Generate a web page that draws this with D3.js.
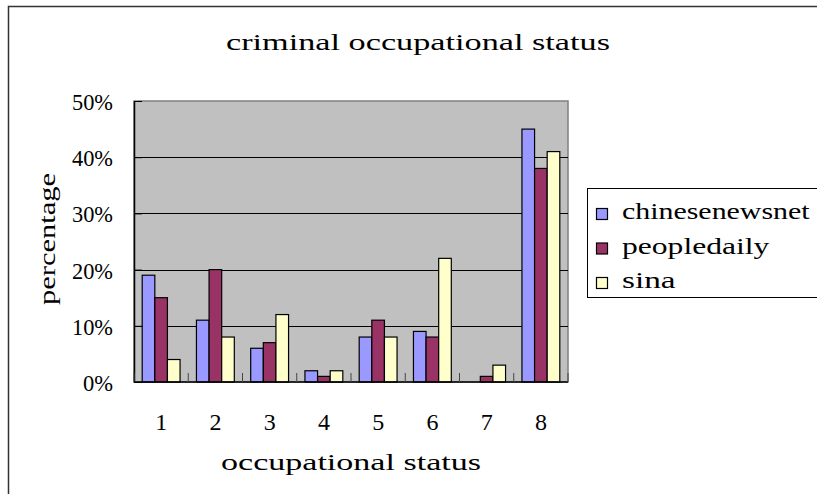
<!DOCTYPE html>
<html>
<head>
<meta charset="utf-8">
<script src="https://cdn.jsdelivr.net/npm/d3@7"></script>
<style>
  body { margin: 0; background: #fff; }
  svg { display: block; }
  text { fill: #000; }
</style>
</head>
<body>
<svg id="chart" width="817" height="494"></svg>
<script>
const categories = ['1', '2', '3', '4', '5', '6', '7', '8']
const seriesNames = ['chinesenewsnet', 'peopledaily', 'sina']
const chinesenewsnet = [19, 11, 6, 2, 8, 9, 0, 45]
const peopledaily = [15, 20, 7, 1, 11, 8, 1, 38]
const sina = [4, 8, 12, 2, 8, 22, 3, 41]
const yTicks = [0, 10, 20, 30, 40, 50]
const colors = ['#9999ff', '#993366', '#ffffcc']

const values = [chinesenewsnet, peopledaily, sina]
const plot = { left: 134, top: 101, right: 568, bottom: 382 }
const FONT = "'Liberation Serif', 'DejaVu Serif', 'Times New Roman', serif"

const svg = d3.select('#chart').attr('font-family', FONT)

// outer chart frame (runs off the right and bottom edge like the source)
svg.append('rect')
  .attr('x', 8.5).attr('y', 6.5).attr('width', 830).attr('height', 500)
  .attr('fill', 'none').attr('stroke', '#333').attr('stroke-width', 1.5)

const x0 = d3.scaleBand().domain(categories).range([plot.left, plot.right])
const x1 = d3.scaleBand().domain(seriesNames).range([0, x0.bandwidth()]).paddingOuter(0.65)
const y = d3.scaleLinear().domain([0, 50]).range([plot.bottom, plot.top])

// plot area
svg.append('rect')
  .attr('x', plot.left).attr('y', plot.top)
  .attr('width', plot.right - plot.left).attr('height', plot.bottom - plot.top)
  .attr('fill', '#c0c0c0').attr('stroke', '#808080').attr('stroke-width', 1.5)

// gridlines
svg.append('g').selectAll('line')
  .data(yTicks.filter(d => d > 0 && d < 50))
  .join('line')
  .attr('x1', plot.left).attr('x2', plot.right)
  .attr('y1', d => Math.round(y(d)) + 0.5).attr('y2', d => Math.round(y(d)) + 0.5)
  .attr('stroke', '#000')

// bars
svg.append('g').selectAll('g')
  .data(categories)
  .join('g')
  .attr('transform', d => `translate(${x0(d)},0)`)
  .selectAll('rect')
  .data((d, i) => seriesNames.map((s, j) => ({ s, j, v: values[j][i] })))
  .join('rect')
  .filter(d => d.v > 0)
  .attr('x', d => x1(d.s))
  .attr('y', d => y(d.v))
  .attr('width', x1.bandwidth())
  .attr('height', d => y(0) - y(d.v))
  .attr('fill', d => colors[d.j])
  .attr('stroke', '#000')
  .attr('stroke-width', 1.2)

// y axis
const yAxis = d3.axisLeft(y).tickValues(yTicks).tickFormat(d => d + '%').tickSizeInner(-8).tickSizeOuter(0).tickPadding(21)
const yAxisEl = svg.append('g').attr('transform', `translate(${plot.left},0)`).call(yAxis)
yAxisEl.attr('font-family', FONT)
yAxisEl.select('.domain').attr('stroke', '#000').attr('stroke-width', 1.5)
yAxisEl.selectAll('.tick line').attr('stroke', '#000')
yAxisEl.selectAll('.tick text').attr('font-size', 24).attr('dy', '0.35em')
  .attr('textLength', 41).attr('lengthAdjust', 'spacingAndGlyphs')
yAxisEl.selectAll('.tick text').filter(d => d === 0).attr('textLength', 30)

// x axis
const xAxisEl = svg.append('g').attr('transform', `translate(0,${plot.bottom})`)
xAxisEl.append('line')
  .attr('x1', plot.left).attr('x2', plot.right).attr('stroke', '#000').attr('stroke-width', 1.5)
xAxisEl.selectAll('.sep')
  .data(categories.concat(['end']))
  .join('line')
  .attr('class', 'sep')
  .attr('x1', d => d === 'end' ? plot.right : x0(d))
  .attr('x2', d => d === 'end' ? plot.right : x0(d))
  .attr('y1', 0).attr('y2', -9)
  .attr('stroke', '#444')
xAxisEl.selectAll('.lab')
  .data(categories)
  .join('text')
  .attr('class', 'lab')
  .attr('x', d => x0(d) + x0.bandwidth() / 2)
  .attr('y', 48)
  .attr('text-anchor', 'middle')
  .attr('font-size', 24)
  .text(d => d)

// titles
svg.append('text')
  .attr('x', 418).attr('y', 50)
  .attr('text-anchor', 'middle').attr('font-size', 24)
  .attr('textLength', 384).attr('lengthAdjust', 'spacingAndGlyphs')
  .text('criminal occupational status')

svg.append('text')
  .attr('x', 351).attr('y', 470)
  .attr('text-anchor', 'middle').attr('font-size', 24)
  .attr('textLength', 260).attr('lengthAdjust', 'spacingAndGlyphs')
  .text('occupational status')

svg.append('text')
  .attr('transform', 'translate(55,239) rotate(-90)')
  .attr('text-anchor', 'middle').attr('font-size', 24)
  .attr('textLength', 132).attr('lengthAdjust', 'spacingAndGlyphs')
  .text('percentage')

// legend
const legend = svg.append('g')
legend.append('rect')
  .attr('x', 587.5).attr('y', 188.5).attr('width', 260).attr('height', 109)
  .attr('fill', '#fff').attr('stroke', '#000')
const item = legend.selectAll('g.item')
  .data(seriesNames)
  .join('g')
  .attr('class', 'item')
  .attr('transform', (d, i) => `translate(596,${219 + i * 34.5})`)
item.append('rect')
  .attr('x', 0.5).attr('y', -10.5).attr('width', 11).attr('height', 11)
  .attr('fill', (d, i) => colors[i]).attr('stroke', '#000').attr('stroke-width', 1.2)
item.append('text')
  .attr('x', 26).attr('y', 0).attr('font-size', 24)
  .attr('textLength', d => d.length * 13.4).attr('lengthAdjust', 'spacingAndGlyphs')
  .text(d => d)
</script>
</body>
</html>
